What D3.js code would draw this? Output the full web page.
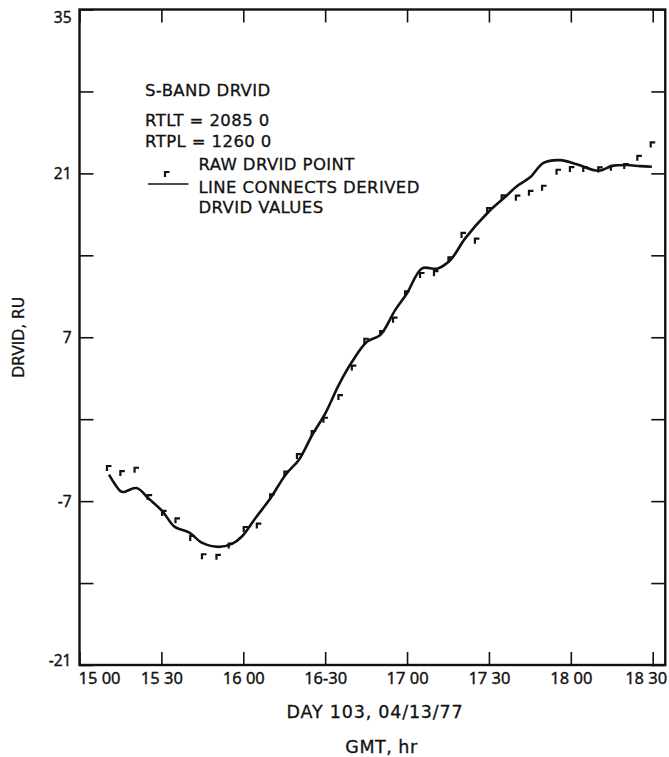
<!DOCTYPE html>
<html>
<head>
<meta charset="utf-8">
<script src="https://cdn.jsdelivr.net/npm/d3@7"></script>
<style>
  html, body { margin: 0; padding: 0; background: #fff; }
  svg { display: block; }
  .lbl { font-family: 'DejaVu Sans', sans-serif; fill: #111; stroke: #111; stroke-width: 0.3px; }
  .tick text { font-family: 'Noto Sans', sans-serif; fill: #111; stroke: #111; stroke-width: 0.35px; }
</style>
</head>
<body>
<svg id="chart"></svg>
<script>
// minutes after 15:00 GMT
const rawMinutes = [10.8, 15.7, 20.9, 25.7, 31.0, 35.9, 41.3, 45.6, 50.9, 55.4, 60.9, 65.7, 70.6, 75.8,
  80.4, 85.8, 90.1, 95.6, 100.5, 105.1, 110.9, 115.6, 120.0, 125.5, 130.6, 135.9, 140.7, 145.6,
  150.1, 155.4, 160.6, 165.4, 170.2, 175.5, 180.4, 185.3, 190.8, 195.4, 200.3, 205.1, 210.0]
const rawDrvid = [-4.17, -4.6, -4.32, -6.65, -8.01, -8.64, -10.14, -11.71, -11.76, -10.8, -9.38, -9.09, -6.6, -4.65,
  -3.15, -1.18, -0.05, 1.89, 4.41, 6.7, 7.35, 8.5, 10.76, 12.32, 12.47, 13.66, 15.74, 15.25,
  17.87, 18.95, 18.92, 19.34, 19.77, 21.14, 21.37, 21.37, 21.34, 21.48, 21.62, 22.33, 23.47]

const derivedMinutes = [10.8, 15.1, 16.3, 20.9, 25.5, 30.4, 34.9, 40.1, 45.0, 51.1, 56.0, 59.6, 64.5, 70.0,
  75.5, 80.4, 85.3, 90.1, 95.0, 99.9, 105.4, 110.2, 115.7, 120.0, 125.5, 131.0, 135.9, 141.3,
  149.9, 155.4, 160.8, 165.1, 170.0, 176.1, 182.2, 190.1, 195.0, 200.5, 205.4, 209.7]
const derivedDrvid = [-4.74, -6.17, -6.22, -5.88, -6.82, -7.87, -9.2, -9.67, -10.57, -10.91, -10.63, -10.0, -8.44, -6.73,
  -4.74, -3.46, -1.33, 0.52, 2.94, 4.93, 6.63, 7.2, 9.34, 10.76, 12.89, 12.86, 13.6, 15.45,
  17.72, 18.87, 20.0, 20.66, 21.9, 22.13, 21.77, 21.22, 21.62, 21.71, 21.62, 21.56]

const timeTicks = [0, 30, 60, 90, 120, 150, 180, 210]
const timeLabels = ['15 00', '15 30', '16 00', '16-30', '17 00', '17 30', '18 00', '18 30']
const yTicks = [-21, -14, -7, 0, 7, 14, 21, 28, 35]
const yLabeled = [35, 21, 7, -7, -21]

const legendLines = ['S-BAND DRVID', 'RTLT = 2085 0', 'RTPL = 1260 0']

const width = 669
const height = 757
const xMax = 214.6 // right frame edge, a little past 18 30

const svg = d3.select('#chart')
  .attr('width', width)
  .attr('height', height)

const xScale = d3.scaleLinear()
  .domain([0, 210])
  .range([79.5, 652.7])

const yScale = d3.scaleLinear()
  .domain([-21, 35])
  .range([665, 9.5])

const frameLeft = xScale(0)
const frameRight = xScale(xMax)
const frameTop = yScale(35)
const frameBottom = yScale(-21)

// bottom axis
const xAxis = svg.append('g')
  .attr('transform', `translate(0, ${frameBottom})`)
  .call(d3.axisBottom(xScale)
    .tickValues(timeTicks)
    .tickFormat((d, i) => timeLabels[i])
    .tickSize(-13)
    .tickPadding(7))
xAxis.select('.domain').remove()
xAxis.selectAll('.tick line').attr('stroke', '#111').attr('stroke-width', 1.6)
xAxis.selectAll('.tick text').style('font-size', '16.5px')
xAxis.selectAll('.tick text').filter(d => d === 0).attr('text-anchor', 'start').attr('dx', -1.5)
xAxis.selectAll('.tick text').filter(d => d === 210).attr('text-anchor', 'end').attr('dx', 14)

// top ticks
const xTop = svg.append('g')
  .attr('transform', `translate(0, ${frameTop})`)
  .call(d3.axisTop(xScale).tickValues(timeTicks).tickFormat('').tickSize(-13))
xTop.select('.domain').remove()
xTop.selectAll('.tick line').attr('stroke', '#111').attr('stroke-width', 1.6)

// left axis
const yAxis = svg.append('g')
  .attr('transform', `translate(${frameLeft}, 0)`)
  .call(d3.axisLeft(yScale)
    .tickValues(yTicks)
    .tickFormat(d => yLabeled.includes(d) ? String(d) : '')
    .tickSize(-14)
    .tickPadding(8))
yAxis.select('.domain').remove()
yAxis.selectAll('.tick line').attr('stroke', '#111').attr('stroke-width', 1.6)
yAxis.selectAll('.tick text').style('font-size', '15.5px')
yAxis.selectAll('.tick text').filter(d => d === 35).attr('dy', '0.85em')
yAxis.selectAll('.tick text').filter(d => d === -21).attr('dy', '0.05em')

// right ticks
const yRight = svg.append('g')
  .attr('transform', `translate(${frameRight}, 0)`)
  .call(d3.axisRight(yScale).tickValues(yTicks).tickFormat('').tickSize(-14))
yRight.select('.domain').remove()
yRight.selectAll('.tick line').attr('stroke', '#111').attr('stroke-width', 1.6)

// frame
svg.append('rect')
  .attr('x', frameLeft)
  .attr('y', frameTop)
  .attr('width', frameRight - frameLeft)
  .attr('height', frameBottom - frameTop)
  .attr('fill', 'none')
  .attr('stroke', '#111')
  .attr('stroke-width', 2.4)

// derived line
const line = d3.line()
  .x(d => xScale(d[0]))
  .y(d => yScale(d[1]))
  .curve(d3.curveCatmullRom.alpha(0.5))

svg.append('path')
  .datum(derivedMinutes.map((m, i) => [m, derivedDrvid[i]]))
  .attr('d', line)
  .attr('fill', 'none')
  .attr('stroke', '#111')
  .attr('stroke-width', 2.6)
  .attr('stroke-linejoin', 'round')

// raw points, drawn as little corner ticks
const marker = 'M-2,3 L-2,-2 L2.5,-2'
svg.append('g')
  .selectAll('path')
  .data(rawMinutes.map((m, i) => [m, rawDrvid[i]]))
  .join('path')
  .attr('transform', d => `translate(${xScale(d[0])}, ${yScale(d[1])})`)
  .attr('d', marker)
  .attr('fill', 'none')
  .attr('stroke', '#111')
  .attr('stroke-width', 2.2)

// legend
const legendStyle = sel => sel
  .attr('class', 'lbl')
  .style('font-size', '16.5px')
  .style('letter-spacing', '0.4px')

const legend = svg.append('g')
legend.selectAll('text.head')
  .data(legendLines)
  .join('text')
  .call(legendStyle)
  .attr('x', 145)
  .attr('y', (d, i) => [96, 125.5, 147.3][i])
  .text(d => d)

legend.append('path')
  .attr('transform', 'translate(167, 174)')
  .attr('d', marker)
  .attr('fill', 'none')
  .attr('stroke', '#111')
  .attr('stroke-width', 2.2)
legend.append('text')
  .call(legendStyle)
  .attr('x', 198.5)
  .attr('y', 170)
  .text('RAW DRVID POINT')

legend.append('line')
  .attr('x1', 148).attr('x2', 188.5)
  .attr('y1', 184).attr('y2', 184)
  .attr('stroke', '#111')
  .attr('stroke-width', 1.6)
legend.append('text')
  .call(legendStyle)
  .attr('x', 198.5)
  .attr('y', 193.3)
  .text('LINE CONNECTS DERIVED')
legend.append('text')
  .call(legendStyle)
  .attr('x', 198.5)
  .attr('y', 212.5)
  .text('DRVID VALUES')

// axis titles
svg.append('text')
  .attr('class', 'lbl')
  .attr('transform', `translate(24, ${yScale(7)}) rotate(-90)`)
  .attr('text-anchor', 'middle')
  .style('font-size', '15.5px')
  .text('DRVID, RU')

svg.append('text')
  .attr('class', 'lbl')
  .attr('x', 375)
  .attr('y', 718)
  .attr('text-anchor', 'middle')
  .style('font-size', '17.5px')
  .style('letter-spacing', '0.8px')
  .text('DAY 103, 04/13/77')

svg.append('text')
  .attr('class', 'lbl')
  .attr('x', 381.5)
  .attr('y', 752.5)
  .attr('text-anchor', 'middle')
  .style('font-size', '17.5px')
  .style('letter-spacing', '0.5px')
  .text('GMT, hr')
</script>
</body>
</html>
